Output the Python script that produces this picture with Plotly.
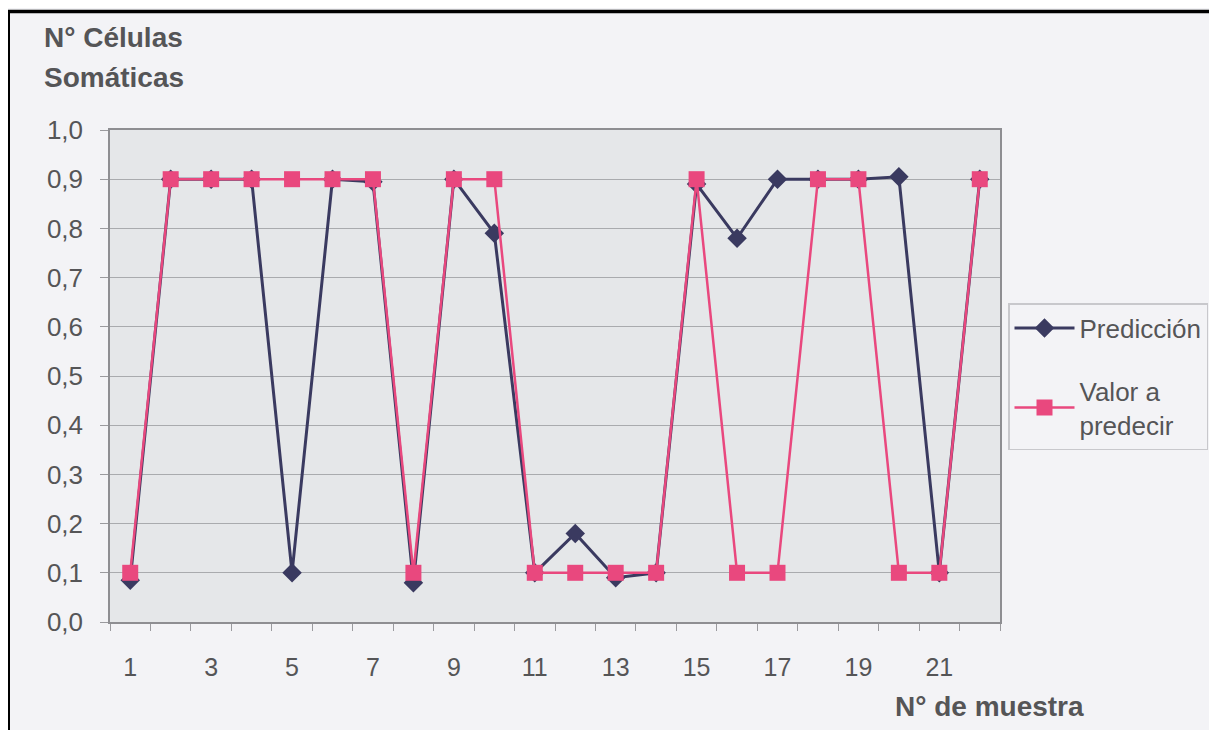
import plotly.graph_objects as go

muestras = list(range(1, 23))
prediccion = [0.085, 0.9, 0.9, 0.9, 0.1, 0.9, 0.895, 0.08, 0.9, 0.79, 0.1,
              0.18, 0.09, 0.1, 0.89, 0.78, 0.9, 0.9, 0.9, 0.905, 0.1, 0.9]
valor_a_predecir = [0.1, 0.9, 0.9, 0.9, 0.9, 0.9, 0.9, 0.1, 0.9, 0.9, 0.1,
                    0.1, 0.1, 0.1, 0.9, 0.1, 0.1, 0.9, 0.9, 0.1, 0.1, 0.9]
x_tick_vals = [1, 3, 5, 7, 9, 11, 13, 15, 17, 19, 21]
y_tick_vals = [0.0, 0.1, 0.2, 0.3, 0.4, 0.5, 0.6, 0.7, 0.8, 0.9, 1.0]

NAVY = "#3a3a60"
PINK = "#e9487e"
GRAY_TXT = "#555557"
PAGE_BG = "#f3f3f6"
PLOT_BG = "#e5e7e9"

OFF = 8  # page body margin in the browser
W, H = 1217 - OFF, 730 - OFF
L, R, T, B = 110 - OFF, 217, 130 - OFF, 108
PW, PH = W - L - R, H - T - B


def px_x(px):
    return (px - OFF - L) / PW


def px_y(py):
    return 1 - (py - OFF - T) / PH


fig = go.Figure()
fig.add_trace(go.Scatter(
    x=muestras, y=prediccion, name="Predicción", mode="lines+markers",
    line=dict(color=NAVY, width=3),
    marker=dict(symbol="diamond", size=15, color=NAVY),
    legendgroup="a",
))
fig.add_trace(go.Scatter(
    x=muestras, y=valor_a_predecir, name="Valor a<br>predecir", mode="lines+markers",
    line=dict(color=PINK, width=2.5),
    marker=dict(symbol="square", size=16, color=PINK),
    legendgroup="b",
))

fig.update_layout(
    width=W, height=H,
    margin=dict(l=L, r=R, t=T, b=B, autoexpand=False),
    paper_bgcolor=PAGE_BG, plot_bgcolor=PLOT_BG,
    separators=",.",
    font=dict(family="Liberation Sans, Arial, sans-serif", color=GRAY_TXT),
    showlegend=True,
    legend=dict(
        x=px_x(1008), y=px_y(303), xanchor="left", yanchor="top",
        bgcolor=PAGE_BG, bordercolor="#c8c8cc", borderwidth=1.5,
        font=dict(size=26, color=GRAY_TXT),
        itemwidth=60, tracegroupgap=26,
    ),
    xaxis=dict(
        range=[0.5, 22.5], tickmode="array", tickvals=x_tick_vals,
        ticktext=[str(v) for v in x_tick_vals],
        ticks="", showgrid=False, zeroline=False,
        showline=True, linecolor="#8e8e92", linewidth=1.5, mirror=True,
        tickfont=dict(size=25, color=GRAY_TXT),
        ticklabelstandoff=22,
        minor=dict(tickmode="linear", tick0=0.5, dtick=1, ticks="outside",
                   ticklen=7, tickcolor="#9a9a9e", showgrid=False),
    ),
    yaxis=dict(
        range=[0, 1.0], tickmode="array", tickvals=y_tick_vals,
        tickformat=".1f", ticks="outside", ticklen=8, tickcolor="#9a9a9e",
        showgrid=True, gridcolor="#a9abae", gridwidth=1, zeroline=False,
        showline=True, linecolor="#8e8e92", linewidth=1.5, mirror=True,
        tickfont=dict(size=26, color=GRAY_TXT),
        ticklabelstandoff=12,
    ),
    annotations=[
        dict(text="<b>N° Células</b>", xref="paper", yref="paper",
             x=px_x(42), y=px_y(37), xanchor="left", yanchor="middle",
             showarrow=False, font=dict(size=28, color=GRAY_TXT)),
        dict(text="<b>Somáticas</b>", xref="paper", yref="paper",
             x=px_x(42), y=px_y(77), xanchor="left", yanchor="middle",
             showarrow=False, font=dict(size=28, color=GRAY_TXT)),
        dict(text="<b>N° de muestra</b>", xref="paper", yref="paper",
             x=px_x(893), y=px_y(706), xanchor="left", yanchor="middle",
             showarrow=False, font=dict(size=28, color=GRAY_TXT)),
    ],
    shapes=[
        dict(type="line", xref="paper", yref="paper",
             x0=px_x(8.5), x1=px_x(8.5), y0=px_y(10), y1=px_y(735),
             line=dict(color="black", width=3)),
        dict(type="line", xref="paper", yref="paper",
             x0=px_x(7), x1=px_x(1220), y0=px_y(11.5), y1=px_y(11.5),
             line=dict(color="black", width=3.5)),
    ],
)

fig.write_html("out.html")
